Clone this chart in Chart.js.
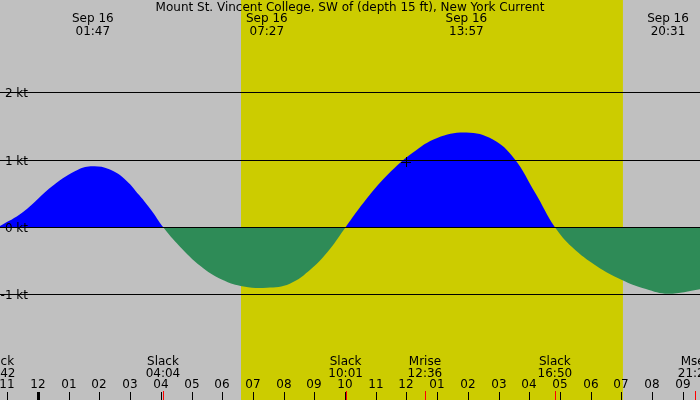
<!DOCTYPE html>
<html><head><meta charset="utf-8">
<script src="https://cdn.jsdelivr.net/npm/chart.js@4/dist/chart.umd.min.js"></script>
<style>html,body{margin:0;padding:0;background:#c0c0c0}#w{width:700px;height:400px}</style>
</head><body><div id="w"><canvas id="c"></canvas></div>
<script>
// time in hours from Sep 16 00:00
const times = [-1.3,-0.5,0.5,1.3,1.78,2.3,2.8,3.3,3.7,4.07,4.6,5.3,6,6.7,7.45,8.2,8.9,9.5,10.02,10.6,11.4,12.2,13,13.95,14.8,15.5,16.2,16.83,17.4,18.2,19,19.8,20.52,21.6];
const speeds = [0,0.22,0.62,0.85,0.9,0.86,0.72,0.47,0.24,0,-0.28,-0.58,-0.78,-0.88,-0.9,-0.84,-0.62,-0.33,0,0.36,0.78,1.1,1.32,1.4,1.3,1.02,0.5,0,-0.3,-0.58,-0.78,-0.92,-0.99,-0.92];
const yTicks = [2,1,0,-1];
const yTickLabels = ['2 kt','1 kt','0 kt','-1 kt'];
const hourTicks = [-1,0,1,2,3,4,5,6,7,8,9,10,11,12,13,14,15,16,17,18,19,20,21];
const hourLabels = ['11','12','01','02','03','04','05','06','07','08','09','10','11','12','01','02','03','04','05','06','07','08','09'];
const headerTimes = [1.783,7.45,13.95,20.517];
const headerLabels = [['Sep 16','01:47'],['Sep 16','07:27'],['Sep 16','13:57'],['Sep 16','20:31']];
const eventTimes = [-1.3,4.067,10.017,12.6,16.833,21.4];
const eventLabels = [['Slack','22:42'],['Slack','04:04'],['Slack','10:01'],['Mrise','12:36'],['Slack','16:50'],['Mset','21:24']];
const daylight = [6.61,19.05];
const title = 'Mount St. Vincent College, SW of (depth 15 ft), New York Current';

const deco = {
  id:'deco',
  beforeDatasetsDraw(ch){
    const {ctx,scales:{x}}=ch;
    ctx.save();
    ctx.fillStyle='#cccc00';
    ctx.fillRect(x.getPixelForValue(daylight[0]),0,x.getPixelForValue(daylight[1])-x.getPixelForValue(daylight[0]),400);
    ctx.restore();
  },
  afterDatasetsDraw(ch){
    const {ctx,scales:{x,y}}=ch;
    ctx.save();
    ctx.font='12px "DejaVu Sans", sans-serif';
    ctx.fillStyle='#000';ctx.strokeStyle='#000';ctx.lineWidth=1;
    yTicks.forEach((v,i)=>{
      const py=Math.round(y.getPixelForValue(v))+0.5;
      ctx.beginPath();ctx.moveTo(0,py);ctx.lineTo(700,py);ctx.stroke();
      ctx.textAlign='right';ctx.textBaseline='middle';
      ctx.fillText(yTickLabels[i],28,py+1);
    });
    ctx.textAlign='center';ctx.textBaseline='middle';
    ctx.fillText(title,350,8);
    headerTimes.forEach((t,i)=>{const px=x.getPixelForValue(t);
      ctx.fillText(headerLabels[i][0],px,19);ctx.fillText(headerLabels[i][1],px,32);});
    eventTimes.forEach((t,i)=>{const px=x.getPixelForValue(t);
      ctx.fillText(eventLabels[i][0],px,362);ctx.fillText(eventLabels[i][1],px,374);
      ctx.fillStyle='#f00';ctx.fillRect(Math.round(px),391,1,9);ctx.fillStyle='#000';});
    hourTicks.forEach((t,i)=>{const px=Math.round(x.getPixelForValue(t));
      ctx.fillText(hourLabels[i],px,385);
      ctx.fillRect(px-(t===0?1:0),392,t===0?3:1,8);});
    const cx=Math.round(x.getPixelForValue(12)), cy=Math.round(y.getPixelForValue(0.97));
    ctx.beginPath();ctx.moveTo(cx-5,cy+0.5);ctx.lineTo(cx+5,cy+0.5);ctx.moveTo(cx+0.5,cy-5);ctx.lineTo(cx+0.5,cy+5);ctx.stroke();
    ctx.restore();
  }
};

new Chart(document.getElementById('c'),{
  type:'line',
  data:{datasets:[{data:times.map((t,i)=>({x:t,y:speeds[i]})),borderWidth:0,pointRadius:0,
    tension:0.4,
    fill:{target:'origin',above:'#0000ff',below:'#2e8b57'}}]},
  options:{responsive:true,maintainAspectRatio:false,animation:false,
    layout:{padding:0},
    plugins:{legend:{display:false},tooltip:{enabled:false}},
    scales:{x:{type:'linear',display:false,min:-1.24,max:21.56},
            y:{display:false,min:-2.563,max:3.363}}},
  plugins:[deco]
});
</script></body></html>
